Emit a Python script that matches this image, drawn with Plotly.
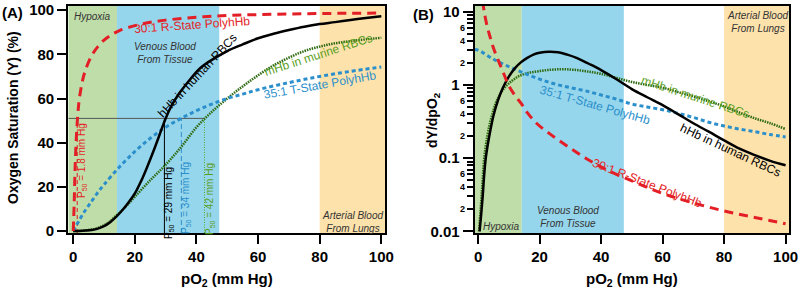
import math
import plotly.graph_objects as go

# ---------------- Panel A: oxygen saturation (%) vs pO2 (mm Hg) ----------------
hhb_a_x = [0, 2, 4, 6, 8, 10, 12, 14, 16, 18, 20, 22, 24, 26, 28, 30, 32, 34, 37, 41, 45, 50,
           55, 60, 65, 70, 75, 80, 85, 90, 95, 100]
hhb_a_y = [0, 0.05, 0.2, 0.5, 1.1, 2.2, 4, 6.5, 9.5, 13, 17, 22.5, 29, 36, 43.5, 51, 57, 61.5,
           67, 73.5, 77.5, 81.5, 84.5, 87.3, 89.3, 91, 92.5, 93.7, 94.6, 95.6, 96.5, 97.3]

rstate_a_x = [0, 0.3, 0.6, 1, 1.5, 2, 3, 4, 6, 8, 10, 12, 15, 20, 25, 30, 40, 50, 60, 70, 80, 90, 100]
rstate_a_y = [0, 12, 28, 42, 53, 60, 68, 73, 79.5, 83.5, 86.5, 88.5, 90.8, 93, 94.5, 95.5, 96.8,
              97.6, 98, 98.3, 98.5, 98.6, 98.7]

tstate_a_x = [0, 2, 4, 6, 8, 10, 15, 20, 25, 30, 35, 40, 45, 50, 55, 60, 70, 80, 90, 100]
tstate_a_y = [0, 5, 9.5, 13.5, 17.5, 21, 29, 36, 42, 47, 51, 54.5, 57.5, 60, 62, 64, 67.2, 70,
              72.3, 74.3]

mhb_a_x = [0, 2, 4, 6, 8, 10, 12, 14, 17, 20, 25, 30, 35, 40, 45, 50, 55, 60, 65, 70, 75, 80,
           85, 90, 95, 100]
mhb_a_y = [0, 0.1, 0.3, 0.7, 1.4, 2.6, 4.5, 7, 11, 15.5, 23, 30, 38, 47, 54, 60, 65.5, 70.5, 75,
           78.5, 81.5, 83.5, 85, 86, 86.8, 87.5]

# P50 marker lines (red, black, blue, green) as drawn
p50_x = [1.3, 29.6, 35.1, 42.6]
p50_y = 51
p50_labels = ["P<sub>50</sub> = 1.8 mm Hg", "P<sub>50</sub> = 29 mm Hg",
              "P<sub>50</sub> = 34 mm Hg", "P<sub>50</sub> = 42 mm Hg"]

# ---------------- Panel B: dY/dpO2 vs pO2 ----------------
hhb_b_x = [0.5, 1, 1.5, 2, 2.5, 3, 4, 5, 6.5, 8, 10, 12, 14, 16, 18, 20, 23, 26, 29, 32, 36, 40,
           45, 50, 55, 60, 65, 70, 75, 80, 85, 90, 95, 100]
hhb_b_y = [0.01, 0.017, 0.03, 0.06, 0.1, 0.14, 0.24, 0.38, 0.62, 0.9, 1.3, 1.7, 2.05, 2.35, 2.6,
           2.75, 2.85, 2.8, 2.6, 2.35, 1.95, 1.6, 1.2, 0.88, 0.68, 0.53, 0.4, 0.3, 0.23, 0.175,
           0.135, 0.11, 0.092, 0.08]

rstate_b_x = [1.5, 2, 3, 4, 5, 6.5, 8, 10, 12, 14, 16, 19, 24, 30, 35, 40, 45, 50, 60, 70, 80,
              90, 100]
rstate_b_y = [14, 10, 6.2, 4.4, 3.2, 2.2, 1.55, 0.98, 0.72, 0.56, 0.42, 0.3, 0.205, 0.137, 0.1,
              0.076, 0.06, 0.049, 0.033, 0.0245, 0.019, 0.0155, 0.0127]

tstate_b_x = [-1.1, 0, 5, 10, 15, 20, 25, 30, 35, 40, 45, 50, 55, 60, 65, 70, 75, 80, 85, 90, 95, 100]
tstate_b_y = [3.05, 3.0, 2.25, 1.78, 1.45, 1.2, 1.03, 0.92, 0.83, 0.73, 0.64, 0.55, 0.5, 0.46,
              0.41, 0.36, 0.31, 0.275, 0.25, 0.23, 0.21, 0.195]

mhb_b_x = [0.3, 1, 1.5, 2, 3, 4, 5, 6, 8, 10, 13, 16, 20, 24, 28, 32, 36, 40, 45, 50, 55, 60, 65,
           70, 75, 80, 85, 90, 95, 100]
mhb_b_y = [0.01, 0.025, 0.05, 0.1, 0.2, 0.32, 0.45, 0.6, 0.85, 1.05, 1.3, 1.45, 1.55, 1.62, 1.64,
           1.6, 1.52, 1.42, 1.25, 1.1, 1.0, 0.92, 0.8, 0.7, 0.6, 0.51, 0.42, 0.35, 0.3, 0.25]

# physiological regions (pO2 bounds)
region_names = ["Hypoxia", "Venous", "Arterial"]
region_lo = [-5, 14.2, 80]
region_hi = [14.2, 47.4, 105]
region_colors = ["#bfdda9", "#96d6ec", "#fde2ac"]

xtick_vals = [0, 20, 40, 60, 80, 100]
ytick_a_vals = [0, 20, 40, 60, 80, 100]
ytick_b_vals = [0.01, 0.1, 1, 10]
ytick_b_text = ["0.01", "0.1", "1", "10"]
minor_b_vals = [m * d for d in (0.01, 0.1, 1) for m in range(2, 10)]
minor_b_labels = [2, 4, 6]

RED = "#e31e26"
BLUE = "#2b8fcb"
GREEN = "#2f6b12"
GREEN_TXT = "#5a9e1e"
FONT = "Liberation Sans, Arial, sans-serif"

XA_RANGE = [-1.6, 101.2]
XB_RANGE = [-1.1, 101.2]
YA_RANGE = [-0.9, 101.9]
YB_RANGE = [-2.022, 1.079]

W, H = 800, 292


def px(v):
    return v / W


def py(v):
    return 1 - v / H


fig = go.Figure()

# background regions
for lo, hi, col in zip(region_lo, region_hi, region_colors):
    fig.add_shape(type="rect", xref="x", yref="y domain", x0=max(lo, XA_RANGE[0]),
                  x1=min(hi, XA_RANGE[1]), y0=0, y1=1, fillcolor=col, line_width=0, layer="below")
    fig.add_shape(type="rect", xref="x2", yref="y2 domain", x0=max(lo, XB_RANGE[0]),
                  x1=min(hi, XB_RANGE[1]), y0=0, y1=1, fillcolor=col, line_width=0, layer="below")

# P50 guide lines in panel A
fig.add_trace(go.Scatter(x=[XA_RANGE[0], p50_x[3]], y=[p50_y, p50_y], mode="lines",
                         line=dict(color="#555555", width=1), showlegend=False, hoverinfo="skip"))
p50_styles = [(RED, "4px,3px"), ("black", "solid"), (BLUE, "5px,3px"), ("#4caf26", "1px,1.5px")]
for xv, (c, d) in zip(p50_x, p50_styles):
    fig.add_trace(go.Scatter(x=[xv, xv], y=[YA_RANGE[0], p50_y], mode="lines",
                             line=dict(color=c, width=1, dash=d), showlegend=False,
                             hoverinfo="skip"))

# curves panel A
fig.add_trace(go.Scatter(x=mhb_a_x, y=mhb_a_y, mode="lines",
                         line=dict(color=GREEN, width=2.5, dash="1.5px,1px"),
                         line_shape="spline", showlegend=False))
fig.add_trace(go.Scatter(x=tstate_a_x, y=tstate_a_y, mode="lines",
                         line=dict(color=BLUE, width=3, dash="4px,3px"),
                         line_shape="spline", showlegend=False))
fig.add_trace(go.Scatter(x=hhb_a_x, y=hhb_a_y, mode="lines", line=dict(color="black", width=2.5),
                         line_shape="spline", showlegend=False))
fig.add_trace(go.Scatter(x=rstate_a_x, y=rstate_a_y, mode="lines",
                         line=dict(color=RED, width=3, dash="9px,6px"),
                         line_shape="spline", showlegend=False))

# curves panel B
fig.add_trace(go.Scatter(x=mhb_b_x, y=mhb_b_y, mode="lines", xaxis="x2", yaxis="y2",
                         line=dict(color=GREEN, width=2.5, dash="1.5px,1px"),
                         line_shape="spline", showlegend=False))
fig.add_trace(go.Scatter(x=tstate_b_x, y=tstate_b_y, mode="lines", xaxis="x2", yaxis="y2",
                         line=dict(color=BLUE, width=3, dash="4px,3px"),
                         line_shape="spline", showlegend=False))
fig.add_trace(go.Scatter(x=hhb_b_x, y=hhb_b_y, mode="lines", xaxis="x2", yaxis="y2",
                         line=dict(color="black", width=2.5), line_shape="spline", showlegend=False))
fig.add_trace(go.Scatter(x=rstate_b_x, y=rstate_b_y, mode="lines", xaxis="x2", yaxis="y2",
                         line=dict(color=RED, width=3, dash="9px,6px"),
                         line_shape="spline", showlegend=False))

ann = []


def add_text(text, x, y, size=11, color="black", angle=0, italic=False, bold=False,
             xanchor="center", yanchor="middle"):
    t = text
    if italic:
        t = "<i>" + t + "</i>"
    if bold:
        t = "<b>" + t + "</b>"
    ann.append(dict(text=t, x=px(x), y=py(y), xref="paper", yref="paper", showarrow=False,
                    textangle=angle, xanchor=xanchor, yanchor=yanchor,
                    font=dict(size=size, color=color, family=FONT)))


# panel labels and axis titles
add_text("(A)", 12, 13, size=15, bold=True)
add_text("(B)", 423, 15, size=15, bold=True)
add_text("Oxygen Saturation (Y) (%)", 13, 118, size=14, bold=True, angle=-90)
add_text("dY/dpO<sub>2</sub>", 433, 120, size=14, bold=True, angle=-90)
add_text("pO<sub>2</sub> (mm Hg)", 227, 279, size=15, bold=True)
add_text("pO<sub>2</sub> (mm Hg)", 632, 279, size=15, bold=True)

# region labels panel A
add_text("Hypoxia", 92, 16, size=10, color="#333333", italic=True)
add_text("Venous Blood<br>From Tissue", 165, 53, size=10, color="#333333", italic=True)
add_text("Arterial Blood<br>From Lungs", 352, 222, size=10, color="#333333", italic=True)
# region labels panel B
add_text("Arterial Blood<br>From Lungs", 757, 22, size=10, color="#333333", italic=True)
add_text("Hypoxia", 502, 226, size=10, color="#333333", italic=True)
add_text("Venous Blood<br>From Tissue", 568, 217, size=10, color="#333333", italic=True)

# curve labels panel A
add_text("30:1 R-State PolyhHb", 192, 25, size=12, color=RED, angle=-4)
add_text("hHb in human RBCs", 197, 76, size=12, color="black", angle=-47)
add_text("mHb in murine RBCs", 318, 55, size=12, color=GREEN_TXT, angle=-18)
add_text("35:1 T-State PolyhHb", 320, 85, size=12, color=BLUE, angle=-10)
# P50 labels
add_text(p50_labels[0], 82, 161, size=10, color=RED, angle=-90)
add_text(p50_labels[1], 169, 203, size=10, color="black", angle=-90)
add_text(p50_labels[2], 186, 198, size=10, color=BLUE, angle=-90)
add_text(p50_labels[3], 210, 199, size=10, color=GREEN_TXT, angle=-90)

# curve labels panel B
add_text("mHb in murine RBCs", 695, 97, size=12, color=GREEN_TXT, angle=18)
add_text("35:1 T-State PolyhHb", 595, 105, size=12, color=BLUE, angle=16)
add_text("hHb in human RBCs", 730, 150, size=12, color="black", angle=25)
add_text("30:1 R-State PolyhHb", 647, 183, size=12, color=RED, angle=21)

# plot-area pixel bounds
A_LEFT, A_RIGHT = 68.3, 385.0
B_LEFT, B_RIGHT = 474.7, 789.3
P_TOP, P_BOT = 6.0, 233.0

# minor tick labels on log axis
for dec in (0.01, 0.1, 1):
    for m in minor_b_labels:
        v = m * dec
        frac = (math.log10(v) - YB_RANGE[0]) / (YB_RANGE[1] - YB_RANGE[0])
        ypix = P_BOT - frac * (P_BOT - P_TOP)
        add_text(str(m), 467, ypix, size=9, bold=True, xanchor="right")

fig.update_layout(annotations=ann)

axis_common = dict(showline=True, linewidth=2.2, linecolor="black", mirror=True, ticks="outside",
                   ticklen=9, tickwidth=2, tickcolor="black", showgrid=False, zeroline=False,
                   automargin=False, ticklabeloverflow="allow",
                   tickfont=dict(family=FONT, size=15, color="black", weight="bold"))

ydom = [py(P_BOT), py(P_TOP)]

fig.update_layout(
    width=W, height=H, margin=dict(l=0, r=0, t=0, b=0, autoexpand=False),
    paper_bgcolor="white", plot_bgcolor="white", showlegend=False,
    xaxis=dict(domain=[px(A_LEFT), px(A_RIGHT)], range=XA_RANGE, tickvals=xtick_vals, anchor="y",
               **axis_common),
    yaxis=dict(domain=ydom, range=YA_RANGE, tickvals=ytick_a_vals, anchor="x", **axis_common),
    xaxis2=dict(domain=[px(B_LEFT), px(B_RIGHT)], range=XB_RANGE, tickvals=xtick_vals,
                anchor="y2", **axis_common),
    yaxis2=dict(domain=ydom, type="log", range=YB_RANGE, tickvals=ytick_b_vals,
                ticktext=ytick_b_text, anchor="x2",
                minor=dict(tickvals=minor_b_vals, ticks="outside", ticklen=6, tickwidth=1.5,
                           tickcolor="black", showgrid=False),
                **{**axis_common, "ticklen": 10}),
)

# the page's default body margin would offset the chart; remove it
fig.write_html("out.html", config={"displayModeBar": False},
               post_script="document.body.style.margin='0px';")
